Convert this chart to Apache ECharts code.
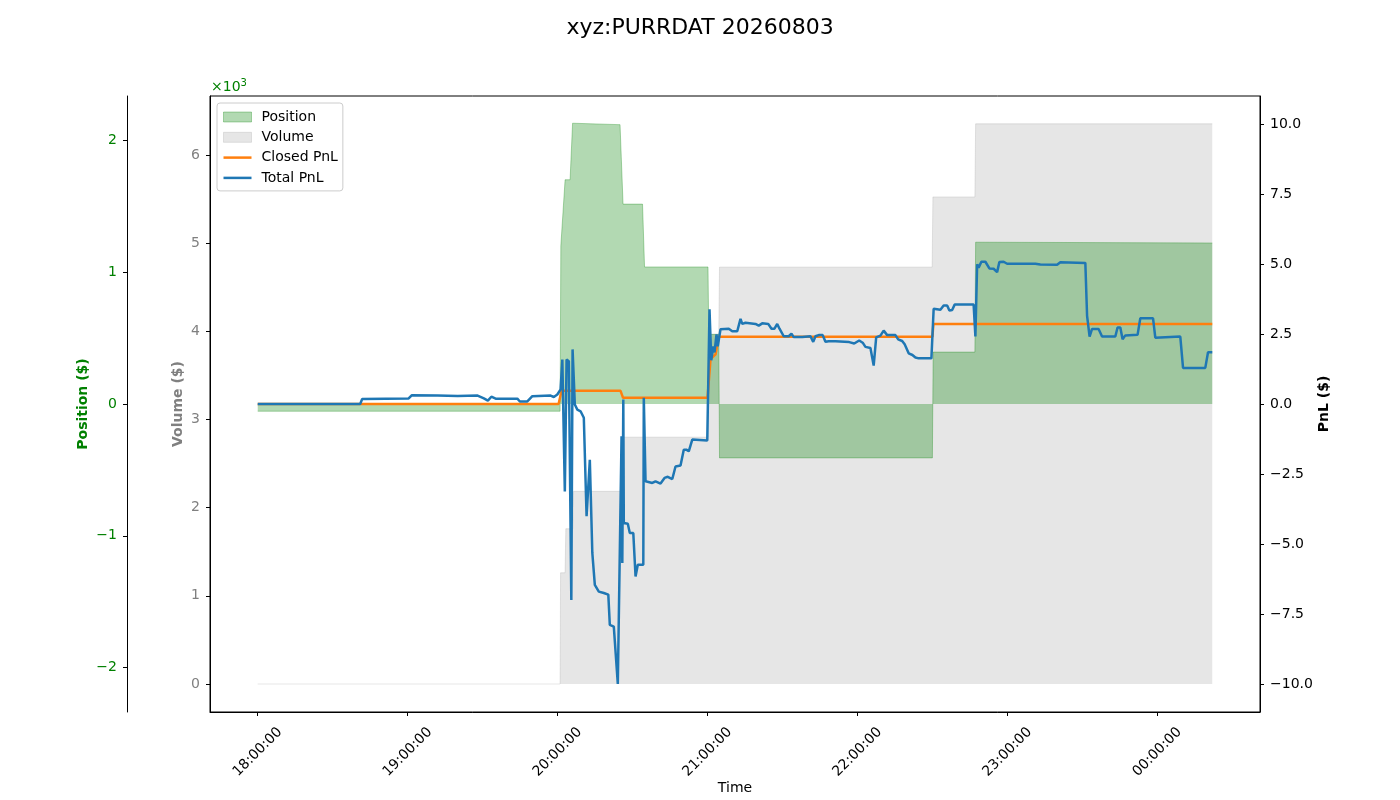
<!DOCTYPE html>
<html lang="en">
<head>
    <meta charset="UTF-8">
    <title>xyz:PURRDAT 20260803</title>
    <script src="https://cdn.jsdelivr.net/npm/echarts@6/dist/echarts.min.js"></script>
    <style type="text/css">
        html, body { margin: 0; padding: 0; background: #fff; }
        #chart { width: 1400px; height: 800px; }
    </style>
</head>
<body>
<div id="chart"></div>
<script>
    // minutes after 18:00:00
    var volT = [0, 121.0, 121.2, 123.0, 123.3, 126.1, 126.4, 146.0, 146.3, 180.2, 180.5, 184.5, 184.8, 269.9, 270.2, 287.0, 287.3, 382];
    var volV = [0, 0, 1261, 1261, 1761, 1761, 2185, 2185, 2799, 2799, 3966, 3966, 4727, 4727, 5523, 5523, 6352, 6352];

    var posT = [0, 121.0, 121.3, 121.8, 123.0, 125.0, 126.0, 145.0, 146.2, 154.0, 154.8, 180.2, 180.5, 184.5, 184.8, 270.0, 270.3, 287.0, 287.3, 382];
    var posV = [-55, -55, 1200, 1200, 1702, 1702, 2131, 2120, 1517, 1517, 1040, 1040, 528, 528, -409, -409, 394, 394, 1228, 1222];

    var closedT = [0, 120.4, 121.6, 145.2, 146.2, 180.0, 181.2, 183.2, 184.5, 270.0, 270.4, 382];
    var closedV = [0, 0, 0.47, 0.47, 0.22, 0.22, 1.6, 1.77, 2.4, 2.4, 2.86, 2.86];

    var totalT = [0, 41.0, 41.8, 60.4, 61.6, 72, 80, 88, 90.5, 92.1, 93.5, 95.2, 103.9, 104.9, 107.9, 109.9, 117.2, 118.5, 119.9,
        121.2, 121.9, 122.9, 123.6, 124.5, 125.5, 126.0, 126.9, 127.9, 129.2, 130.5, 131.6, 132.9, 133.9, 134.9, 136.5, 138.5,
        140.3, 140.9, 142.5, 144.1, 144.9, 145.6, 145.9, 146.3, 146.5, 148.1, 148.9, 150.3, 151.2, 152.1, 154.3, 154.5, 155.2,
        157.9, 159.2, 161.2, 162.8, 164.1, 165.9, 167.2, 169.2, 170.5, 171.5, 172.5, 173.9, 179.9, 180.8, 181.5, 182.3, 182.8,
        183.6, 184.1, 185.2, 188.5, 189.9, 191.9, 193.2, 193.9, 195.2, 199.2, 200.5, 201.9, 204.3, 205.6, 206.8, 207.9, 208.8,
        210.5, 212.5, 213.6, 214.5, 217.9, 221.2, 222.3, 223.2, 224.5, 226.1, 227.2, 228.5, 231.2, 236.7, 238.7, 240.7, 242.1,
        243.2, 245.2, 246.5, 247.5, 249.2, 250.5, 251.9, 255.2, 256.3, 257.9, 258.9, 260.5, 262.0, 263.2, 264.5, 269.6, 270.5,
        273.2, 274.5, 275.9, 276.8, 277.9, 278.9, 286.5, 287.2, 287.9, 288.5, 289.6, 291.2, 292.8, 294.5, 295.9, 296.8, 298.5,
        299.9, 311.2, 313.2, 319.9, 321.2, 331.2, 331.9, 332.9, 333.9, 336.5, 337.9, 343.2, 344.1, 345.2, 346.1, 347.2, 352.1,
        353.2, 358.3, 359.2, 369.2, 370.3, 379.2, 380.3, 382];
    var totalV = [0, 0, 0.18, 0.2, 0.31, 0.3, 0.29, 0.3, 0.2, 0.12, 0.26, 0.19, 0.19, 0.09, 0.09, 0.28, 0.3, 0.25, 0.34,
        0.52, 1.59, -3.12, 1.59, 1.53, -7.0, 1.95, -0.02, -0.2, -0.26, -0.49, -4.01, -1.99, -5.32, -6.46, -6.70, -6.75,
        -6.81, -7.89, -7.95, -10.0, -10.0, -1.15, -5.68, 0.16, -4.25, -4.28, -4.61, -4.61, -6.16, -5.74, -5.74, 0.22, -2.76,
        -2.82, -2.76, -2.84, -2.64, -2.60, -2.68, -2.23, -2.2, -1.63, -1.63, -1.69, -1.27, -1.30, 3.38, 1.56, 2.06, 1.84,
        2.49, 2.06, 2.67, 2.69, 2.60, 2.60, 3.04, 2.86, 2.90, 2.86, 2.80, 2.88, 2.86, 2.69, 2.69, 2.86, 2.69,
        2.42, 2.42, 2.51, 2.39, 2.39, 2.42, 2.22, 2.42, 2.46, 2.46, 2.22, 2.24, 2.24, 2.21, 2.16, 2.27, 2.19,
        2.04, 2.00, 1.37, 2.38, 2.44, 2.62, 2.46, 2.46, 2.31, 2.25, 2.13, 1.81, 1.75, 1.66, 1.63, 1.63, 3.40,
        3.37, 3.52, 3.52, 3.34, 3.36, 3.55, 3.55, 2.41, 4.99, 4.87, 5.08, 5.08, 4.84, 4.83, 4.71, 5.07, 5.08,
        5.01, 5.01, 4.98, 4.97, 5.06, 5.04, 3.15, 2.41, 2.68, 2.68, 2.41, 2.41, 2.73, 2.73, 2.31, 2.45, 2.47,
        3.06, 3.06, 2.37, 2.41, 1.29, 1.29, 1.85, 1.85];

    var timeTicks = [0, 60, 120, 180, 240, 300, 360];
    var posTicks = [-2000, -1000, 0, 1000, 2000];
    var volTicks = [0, 1000, 2000, 3000, 4000, 5000, 6000];
    var pnlTicks = [-10, -7.5, -5, -2.5, 0, 2.5, 5, 7.5, 10];

    function zip(t, v) {
        var out = [];
        for (var i = 0; i < t.length; i++) {
            out.push([t[i], v[i]]);
        }
        return out;
    }
    function pad(n) {
        return n < 10 ? '0' + n : '' + n;
    }
    function minus(s) {
        return String(s).replace('-', '\u2212');
    }

    var FONT = 'DejaVu Sans';
    var GREEN = '#008000';
    var GRAY = '#808080';
    var LINE_ICON = 'path://M0,0H28V2.5H0Z';

    function yAxisBase(pos, offset, min, max, step, ticks, color, fmt, name, gap) {
        return {
            type: 'value',
            position: pos,
            offset: offset,
            min: min,
            max: max,
            minInterval: step,
            maxInterval: step,
            splitLine: {show: false},
            axisLine: {show: true, onZero: false, lineStyle: {color: '#000', width: 1}},
            axisTick: {show: true, length: 4, lineStyle: {color: '#000'}, customValues: ticks},
            axisLabel: {
                color: color, fontSize: 14, fontFamily: FONT, margin: 10,
                padding: [6, 0, 0, 0],
                customValues: ticks, formatter: fmt
            },
            name: name,
            nameLocation: 'middle',
            nameRotate: 90,
            nameGap: gap,
            nameMoveOverlap: false,
            nameTextStyle: {color: color, fontSize: 14, fontWeight: 'bold', fontFamily: FONT}
        };
    }

    var myChart = echarts.init(document.getElementById('chart'));
    var option = {
        animation: false,
        backgroundColor: '#fff',
        textStyle: {fontFamily: FONT},
        title: {
            text: 'xyz:PURRDAT 20260803',
            left: 'center',
            top: 12,
            textStyle: {fontSize: 22, fontWeight: 'normal', color: '#000', fontFamily: FONT}
        },
        graphic: [{
            type: 'text',
            left: 211,
            top: 78,
            style: {
                text: '{b|\u00d710}{s|3}',
                rich: {
                    b: {fill: GREEN, fontSize: 14, fontFamily: FONT, verticalAlign: 'bottom'},
                    s: {fill: GREEN, fontSize: 10, fontFamily: FONT, verticalAlign: 'top', padding: [0, 0, 6, 0]}
                }
            }
        }],
        legend: {
            orient: 'vertical',
            left: 217,
            top: 103,
            padding: [7, 5, 6, 6],
            itemWidth: 28,
            itemHeight: 10,
            itemGap: 6.3,
            symbolKeepAspect: true,
            borderColor: '#cccccc',
            borderWidth: 1,
            borderRadius: 3,
            backgroundColor: 'rgba(255,255,255,0.8)',
            textStyle: {fontSize: 14, color: '#000', fontFamily: FONT, padding: [0, 0, 0, 5]},
            data: [
                {name: 'Position', icon: 'rect',
                    itemStyle: {color: 'rgba(0,128,0,0.3)', borderColor: 'rgba(0,128,0,0.3)', borderWidth: 1}},
                {name: 'Volume', icon: 'rect',
                    itemStyle: {color: 'rgba(128,128,128,0.2)', borderColor: 'rgba(128,128,128,0.2)', borderWidth: 1}},
                {name: 'Closed PnL', icon: LINE_ICON, itemStyle: {color: '#ff7f0e', borderWidth: 0}},
                {name: 'Total PnL', icon: LINE_ICON, itemStyle: {color: '#1f77b4', borderWidth: 0}}
            ]
        },
        grid: {
            left: 210, right: 140, top: 96, bottom: 88,
            outerBoundsMode: 'none',
            containLabel: false,
            show: true, borderColor: '#000', borderWidth: 1, backgroundColor: 'transparent'
        },
        xAxis: {
            type: 'value',
            min: -19.1,
            max: 401.1,
            minInterval: 60,
            maxInterval: 60,
            splitLine: {show: false},
            axisLine: {show: true, onZero: false, lineStyle: {color: '#000'}},
            axisTick: {show: true, length: 4, lineStyle: {color: '#000'}, customValues: timeTicks},
            axisLabel: {
                rotate: 45, align: 'center', verticalAlign: 'middle', margin: 40,
                color: '#000', fontSize: 14, fontFamily: FONT,
                customValues: timeTicks,
                formatter: function (m) {
                    var h = (18 + Math.floor(m / 60)) % 24;
                    return pad(h) + ':' + pad(Math.round(m % 60)) + ':00';
                }
            },
            name: 'Time',
            nameLocation: 'middle',
            nameGap: 69,
            nameMoveOverlap: false,
            nameTextStyle: {color: '#000', fontSize: 14, fontFamily: FONT}
        },
        yAxis: [
            yAxisBase('left', 83, -2337.5, 2337.5, 1000, posTicks, GREEN,
                function (v) { return minus(v / 1000); }, 'Position ($)', 37),
            yAxisBase('left', 0, -317.5, 6667.5, 1000, volTicks, GRAY,
                function (v) { return minus(v / 1000); }, 'Volume ($)', 25),
            yAxisBase('right', 0, -11, 11, 2.5, pnlTicks, '#000',
                function (v) { return minus(v.toFixed(1)); }, 'PnL ($)', 57)
        ],
        series: [
            {
                name: 'Volume', type: 'line', yAxisIndex: 1, z: 1,
                symbol: 'none', data: zip(volT, volV),
                itemStyle: {color: 'rgba(128,128,128,0.2)'},
                lineStyle: {color: 'rgba(128,128,128,0.2)', width: 1},
                areaStyle: {color: 'rgba(128,128,128,0.2)', origin: 0, opacity: 1}
            },
            {
                name: 'Position', type: 'line', yAxisIndex: 0, z: 2,
                symbol: 'none', data: zip(posT, posV),
                itemStyle: {color: 'rgba(0,128,0,0.3)'},
                lineStyle: {color: 'rgba(0,128,0,0.3)', width: 1},
                areaStyle: {color: 'rgba(0,128,0,0.3)', origin: 0, opacity: 1}
            },
            {
                name: 'Closed PnL', type: 'line', yAxisIndex: 2, z: 3,
                symbol: 'none', data: zip(closedT, closedV),
                itemStyle: {color: '#ff7f0e'},
                lineStyle: {color: '#ff7f0e', width: 2.5}
            },
            {
                name: 'Total PnL', type: 'line', yAxisIndex: 2, z: 4,
                symbol: 'none', data: zip(totalT, totalV),
                itemStyle: {color: '#1f77b4'},
                lineStyle: {color: '#1f77b4', width: 2.5}
            }
        ]
    };
    myChart.setOption(option);
</script>
</body>
</html>
